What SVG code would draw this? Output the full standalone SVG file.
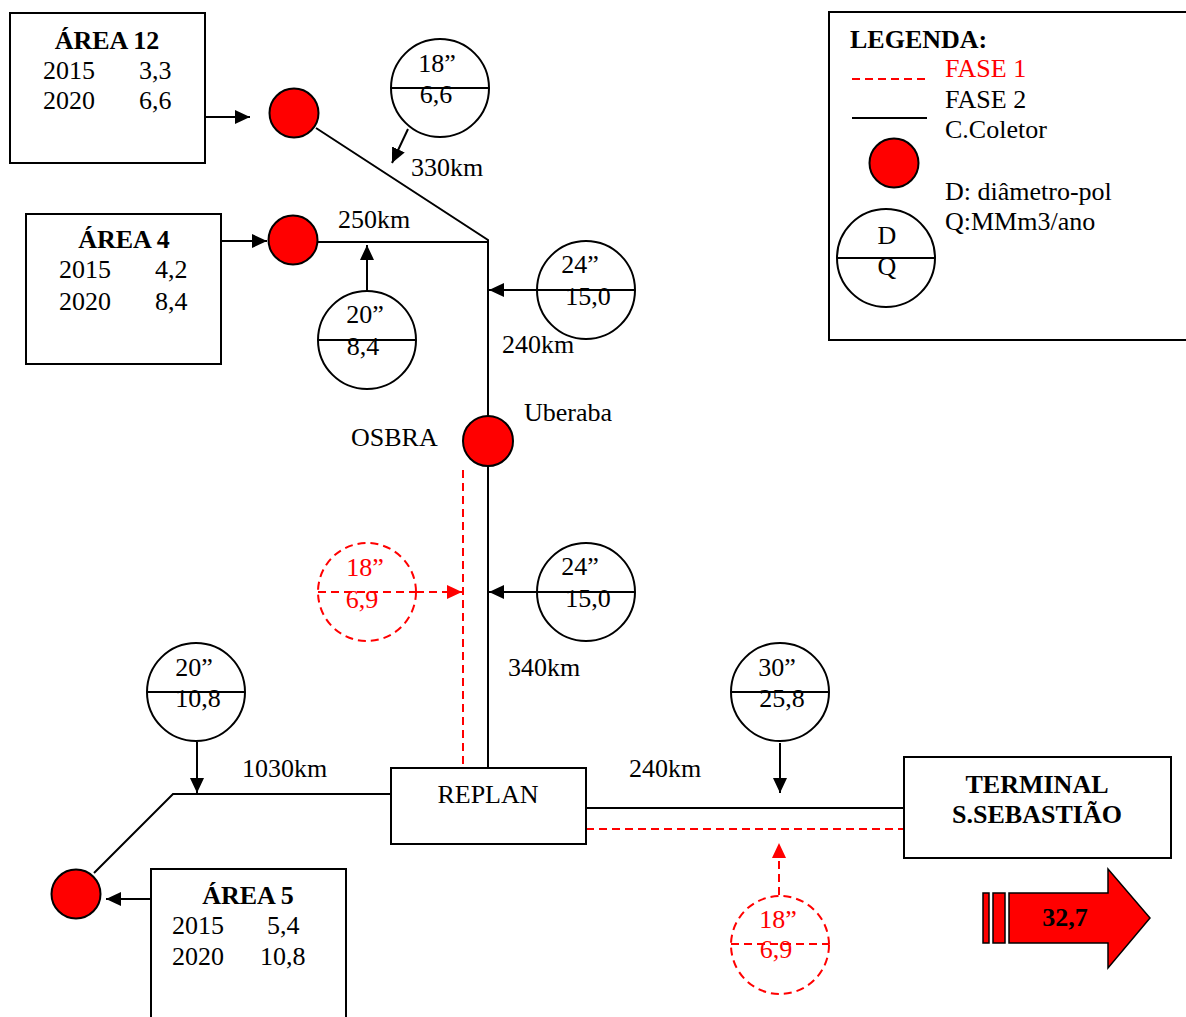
<svg xmlns="http://www.w3.org/2000/svg" width="1186" height="1017" viewBox="0 0 1186 1017">
<style>
text{font-family:"Liberation Serif","Times New Roman",serif;font-size:26px;fill:#000}
.b{font-weight:bold}
.m{text-anchor:middle}
.r{fill:#ff0000}
.box{fill:#fff;stroke:#000;stroke-width:2}
.ln{fill:none;stroke:#000;stroke-width:2}
.dl{fill:none;stroke:#ff0000;stroke-width:2;stroke-dasharray:8 5}
.dot{fill:#ff0000;stroke:#000;stroke-width:2}
.pc{fill:#fff;stroke:#000;stroke-width:2}
.rc{fill:#fff;stroke:#ff0000;stroke-width:2;stroke-dasharray:8 5}
</style>
<defs>
<marker id="ab" markerWidth="15" markerHeight="14" refX="15" refY="7" orient="auto" markerUnits="userSpaceOnUse"><path d="M0,0 L15,7 L0,14 z" fill="#000"/></marker>
<marker id="ar" markerWidth="15" markerHeight="14" refX="15" refY="7" orient="auto" markerUnits="userSpaceOnUse"><path d="M0,0 L15,7 L0,14 z" fill="#ff0000"/></marker>
</defs>
<rect width="1186" height="1017" fill="#fff"/>

<g id="connectors">
<polyline class="ln" points="316,128 488,240 488,768"/>
<line class="ln" x1="318" y1="242" x2="488" y2="242"/>
<line class="dl" x1="463" y1="470" x2="463" y2="772"/>
<polyline class="ln" points="94,873 173,794 391,794"/>
<line class="ln" x1="586" y1="808" x2="904" y2="808"/>
<line class="dl" x1="586" y1="829" x2="904" y2="829"/>
<line class="ln" x1="204" y1="117" x2="250" y2="117" marker-end="url(#ab)"/>
<line class="ln" x1="220" y1="241" x2="267" y2="241" marker-end="url(#ab)"/>
<line class="ln" x1="153" y1="899" x2="106" y2="899" marker-end="url(#ab)"/>
<line class="ln" x1="408" y1="129" x2="392" y2="163" marker-end="url(#ab)"/>
<line class="ln" x1="367" y1="290" x2="367" y2="245" marker-end="url(#ab)"/>
<line class="ln" x1="537" y1="290" x2="489" y2="290" marker-end="url(#ab)"/>
<line class="ln" x1="537" y1="592" x2="489" y2="592" marker-end="url(#ab)"/>
<line class="ln" x1="197" y1="742" x2="197" y2="793" marker-end="url(#ab)"/>
<line class="ln" x1="780" y1="743" x2="780" y2="793" marker-end="url(#ab)"/>
<line class="dl" x1="416" y1="592" x2="462" y2="592" marker-end="url(#ar)"/>
<line class="dl" x1="779" y1="895" x2="779" y2="843" marker-end="url(#ar)"/>
</g>

<g id="area12">
<rect class="box" x="10" y="13" width="195" height="150"/>
<text class="b m" x="107" y="49">ÁREA 12</text>
<text x="43" y="79">2015</text><text x="139" y="79">3,3</text>
<text x="43" y="109">2020</text><text x="139" y="109">6,6</text>
</g>

<g id="area4">
<rect class="box" x="26" y="214" width="195" height="150"/>
<text class="b m" x="124" y="248">ÁREA 4</text>
<text x="59" y="278">2015</text><text x="155" y="278">4,2</text>
<text x="59" y="310">2020</text><text x="155" y="310">8,4</text>
</g>

<g id="area5">
<rect class="box" x="151" y="869" width="195" height="170"/>
<text class="b m" x="248" y="904">ÁREA 5</text>
<text x="172" y="934">2015</text><text x="267" y="934">5,4</text>
<text x="172" y="965">2020</text><text x="260" y="965">10,8</text>
</g>

<g id="collector1"><circle class="dot" cx="294" cy="113" r="24.5"/></g>
<g id="collector2"><circle class="dot" cx="293" cy="240" r="24.5"/></g>
<g id="uberaba">
<circle class="dot" cx="488" cy="441" r="25"/>
<text x="524" y="421">Uberaba</text>
<text x="351" y="446">OSBRA</text>
</g>
<g id="collector5"><circle class="dot" cx="76" cy="894" r="24.5"/></g>

<g id="pipe-18-66">
<circle class="pc" cx="440" cy="88" r="49"/>
<line class="ln" x1="391" y1="88" x2="489" y2="88"/>
<text class="m" x="437" y="72">18”</text>
<text class="m" x="436" y="103">6,6</text>
</g>
<g id="pipe-20-84">
<circle class="pc" cx="367" cy="340" r="49"/>
<line class="ln" x1="318" y1="340" x2="416" y2="340"/>
<text class="m" x="365" y="323">20”</text>
<text class="m" x="363" y="355">8,4</text>
</g>
<g id="pipe-24-150a">
<circle class="pc" cx="586" cy="290" r="49"/>
<line class="ln" x1="537" y1="290" x2="635" y2="290"/>
<text class="m" x="580" y="273">24”</text>
<text class="m" x="588" y="305">15,0</text>
</g>
<g id="pipe-24-150b">
<circle class="pc" cx="586" cy="592" r="49"/>
<line class="ln" x1="537" y1="592" x2="635" y2="592"/>
<text class="m" x="580" y="575">24”</text>
<text class="m" x="588" y="607">15,0</text>
</g>
<g id="pipe-18-69a">
<circle class="rc" cx="367" cy="592" r="49"/>
<line class="dl" x1="318" y1="592" x2="416" y2="592"/>
<text class="m r" x="365" y="576">18”</text>
<text class="m r" x="362" y="608">6,9</text>
</g>
<g id="pipe-20-108">
<circle class="pc" cx="196" cy="692" r="49"/>
<line class="ln" x1="147" y1="692" x2="245" y2="692"/>
<text class="m" x="194" y="676">20”</text>
<text class="m" x="198" y="707">10,8</text>
</g>
<g id="pipe-30-258">
<circle class="pc" cx="780" cy="692" r="49"/>
<line class="ln" x1="731" y1="692" x2="829" y2="692"/>
<text class="m" x="777" y="676">30”</text>
<text class="m" x="782" y="707">25,8</text>
</g>
<g id="pipe-18-69b">
<circle class="rc" cx="780" cy="945" r="49"/>
<line class="dl" x1="731" y1="944" x2="829" y2="944"/>
<text class="m r" x="778" y="928">18”</text>
<text class="m r" x="776" y="958">6,9</text>
</g>

<g id="labels">
<text x="411" y="176">330km</text>
<text x="338" y="228">250km</text>
<text x="502" y="353">240km</text>
<text x="508" y="676">340km</text>
<text x="242" y="777">1030km</text>
<text x="629" y="777">240km</text>
</g>

<g id="replan">
<rect class="box" x="391" y="768" width="195" height="76"/>
<text class="m" x="488" y="803">REPLAN</text>
</g>

<g id="terminal">
<rect class="box" x="904" y="757" width="267" height="101"/>
<text class="b m" x="1037" y="793">TERMINAL</text>
<text class="b m" x="1037" y="823">S.SEBASTIÃO</text>
</g>

<g id="export-arrow">
<rect class="dot" x="983" y="893" width="6" height="50" style="stroke-width:1.5"/>
<rect class="dot" x="993" y="893" width="12" height="50" style="stroke-width:1.5"/>
<path class="dot" style="stroke-width:1.5" d="M1009,893 L1108,893 L1108,869 L1150,918 L1108,968 L1108,943 L1009,943 z"/>
<text class="b m" x="1065" y="926">32,7</text>
</g>

<g id="legend">
<rect class="box" x="829" y="12" width="370" height="328"/>
<text class="b" x="850" y="48">LEGENDA:</text>
<line class="dl" x1="852" y1="79" x2="927" y2="79"/>
<text class="r" x="945" y="77">FASE 1</text>
<text x="945" y="108">FASE 2</text>
<line class="ln" x1="852" y1="118" x2="927" y2="118"/>
<text x="945" y="138">C.Coletor</text>
<circle class="dot" cx="894" cy="163" r="24.5"/>
<text x="945" y="200">D: diâmetro-pol</text>
<text x="945" y="230">Q:MMm3/ano</text>
<circle class="pc" cx="886" cy="258" r="49"/>
<line class="ln" x1="837" y1="258" x2="935" y2="258"/>
<text class="m" x="887" y="244">D</text>
<text class="m" x="887" y="275">Q</text>
</g>
</svg>
